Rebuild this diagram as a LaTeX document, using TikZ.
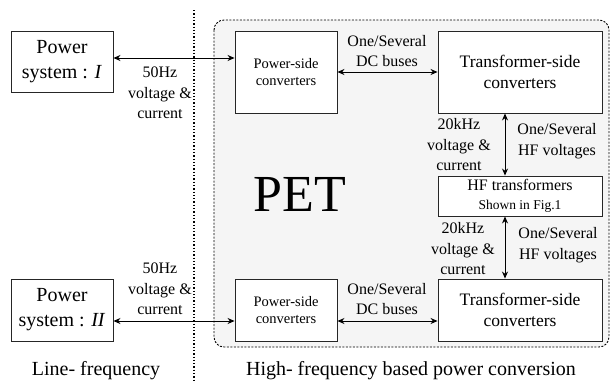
\documentclass[tikz,border=0pt]{standalone}
\usepackage{fontspec}
\setmainfont{Liberation Serif}
\usetikzlibrary{arrows.meta}
\begin{document}
\begin{tikzpicture}[x=1pt,y=-1pt,
  blk/.style={draw=black!85,line width=0.9pt,fill=white,inner sep=0pt,align=center},
  big/.style={font=\fontsize{17.5}{21}\selectfont},
  sys/.style={font=\fontsize{20}{25}\selectfont},
  lbl/.style={align=center,font=\fontsize{16}{20.5}\selectfont,inner sep=0pt},
  sml/.style={font=\fontsize{14.5}{17}\selectfont},
  arr/.style={{Stealth[length=7pt,width=6pt]}-{Stealth[length=7pt,width=6pt]},line width=0.9pt}]
\useasboundingbox (0,0) rectangle (611,383);
\fill[white] (0,0) rectangle (611,383);
% PET region
\draw[fill=black!4,line width=0.9pt,dash pattern=on 2pt off 1.5pt,rounded corners=10pt] (214,20) rectangle (609,347);
% separator
\draw[line width=1.3pt,dash pattern=on 1.3pt off 2pt] (194,10) -- (194,383);
% boxes
\node[blk,sys,minimum width=102pt,minimum height=61pt] (ps1) at (62,61.5) {Power\\system : \textit{I}};
\node[blk,sys,minimum width=102pt,minimum height=62pt] (ps2) at (62,310) {Power\\system : \textit{II}};
\node[blk,sml,minimum width=102pt,minimum height=82pt] (pc1) at (286,72) {Power-side\\converters};
\node[blk,sml,minimum width=102pt,minimum height=62pt] (pc2) at (286,310) {Power-side\\converters};
\node[blk,big,minimum width=164pt,minimum height=82pt] (tc1) at (520,72) {Transformer-side\\converters};
\node[blk,big,minimum width=164pt,minimum height=62pt] (tc2) at (520,310) {Transformer-side\\converters};
\node[blk,minimum width=164pt,minimum height=40pt,font=\fontsize{16}{19}\selectfont] (hf) at (520,196) {HF transformers\\{\fontsize{13.5}{16}\selectfont Shown in Fig.1}};
% connectors
\coordinate (a1) at (ps1.east |- 0,58);
\coordinate (b1) at (pc1.west |- 0,58);
\draw[arr] (a1) -- (b1);
\coordinate (a2) at (ps2.east |- 0,321);
\coordinate (b2) at (pc2.west |- 0,321);
\draw[arr] (a2) -- (b2);
\draw[arr] (pc1.east) -- (tc1.west);
\coordinate (c2) at (pc2.east |- 0,321);
\coordinate (d2) at (tc2.west |- 0,321);
\draw[arr] (c2) -- (d2);
\coordinate (e1) at (505,0 |- tc1.south);
\coordinate (f1) at (505,0 |- hf.north);
\draw[arr] (e1) -- (f1);
\coordinate (e2) at (505,0 |- hf.south);
\coordinate (f2) at (505,0 |- tc2.north);
\draw[arr] (e2) -- (f2);
% labels
\node[lbl] (l1) at (160,93) {50Hz\\voltage \&\\current};
\node[lbl] (l2) at (160,289) {50Hz\\voltage \&\\current};
\node[lbl] (l3) at (387,51) {One/Several\\DC buses};
\node[lbl] (l4) at (387,299) {One/Several\\DC buses};
\node[lbl] (l5) at (459,145) {20kHz\\voltage \&\\current};
\node[lbl] (l6) at (463,249) {20kHz\\voltage \&\\current};
\node[lbl] (l7) at (557,141) {One/Several\\HF voltages};
\node[lbl] (l8) at (558,245) {One/Several\\HF voltages};
\node[font=\fontsize{52}{52}\selectfont,inner sep=0pt] (pet) at (300,194.5) {PET};
\node[font=\fontsize{20}{24}\selectfont,inner sep=0pt] (lf) at (96,371) {Line- frequency};
\node[font=\fontsize{20}{24}\selectfont,inner sep=0pt] (hfc) at (411,371) {High- frequency based power conversion};
\end{tikzpicture}
\end{document}
